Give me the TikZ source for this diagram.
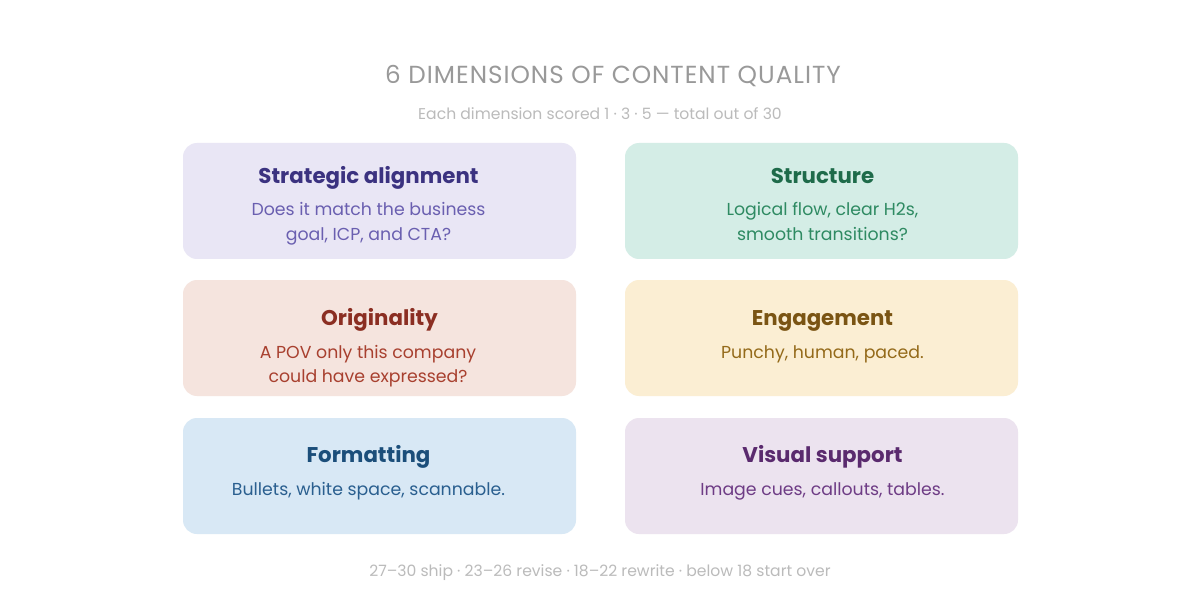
\documentclass[tikz,border=0pt]{standalone}
\usepackage{fontspec}
\setmainfont{Poppins}
\usepackage{xcolor}
\usepackage{tikz}
\usetikzlibrary{positioning}

\definecolor{ttlgray}{HTML}{999999}
\definecolor{subgray}{HTML}{BBBBBB}
\definecolor{safill}{HTML}{E9E6F5}\definecolor{sahead}{HTML}{3B3280}\definecolor{satext}{HTML}{6A5FB0}
\definecolor{stfill}{HTML}{D4EDE6}\definecolor{sthead}{HTML}{1E6B4A}\definecolor{sttext}{HTML}{2E8A62}
\definecolor{ogfill}{HTML}{F5E4DE}\definecolor{oghead}{HTML}{8B2E22}\definecolor{ogtext}{HTML}{A8402F}
\definecolor{enfill}{HTML}{FBEED3}\definecolor{enhead}{HTML}{7A5413}\definecolor{entext}{HTML}{946A1A}
\definecolor{fmfill}{HTML}{D8E8F5}\definecolor{fmhead}{HTML}{1B4E7A}\definecolor{fmtext}{HTML}{2A5F8F}
\definecolor{vsfill}{HTML}{ECE3EF}\definecolor{vshead}{HTML}{5A2A6E}\definecolor{vstext}{HTML}{6E3C85}

\begin{document}
\begin{tikzpicture}[
            x=0.75pt, y=-0.75pt,
            every node/.style={inner sep=0pt},
            card/.style={rounded corners=10.5pt, minimum width=294.75pt, minimum height=87pt},
            hd/.style={anchor=base, font=\fontsize{16}{18}\selectfont\bfseries},
            bd/.style={anchor=base, align=center, font=\fontsize{13}{18}\selectfont},
            note/.style={anchor=base, text=subgray, font=\fontsize{11.7}{14}\selectfont},
        ]
            \useasboundingbox[fill=white] (0,0) rectangle (1200,613);
            \node[anchor=base, text=ttlgray, font=\fontsize{18.5}{22}\selectfont\addfontfeatures{LetterSpace=4}] (title) at (613,84) {6 DIMENSIONS OF CONTENT QUALITY};
            \node[note] (sub) at (600,120) {Each dimension scored 1 · 3 · 5 — total out of 30};
            % cards
            \node[card, fill=safill] (sa) at (379.5,201) {};
            \node[card, fill=stfill] (st) at (821.5,201) {};
            \node[card, fill=ogfill] (og) at (379.5,338) {};
            \node[card, fill=enfill] (en) at (821.5,338) {};
            \node[card, fill=fmfill] (fm) at (379.5,476) {};
            \node[card, fill=vsfill] (vs) at (821.5,476) {};
            % headings and texts (base = last line)
            \node[hd, text=sahead] (sah) at (368.5,184) {Strategic alignment};
            \node[bd, text=satext] (sab) at (368.5,240) {Does it match the business\\goal, ICP, and CTA?};
            \node[hd, text=sthead] (sth) at (822.5,184) {Structure};
            \node[bd, text=sttext] (stb) at (822.5,240) {Logical flow, clear H2s,\\smooth transitions?};
            \node[hd, text=oghead] (ogh) at (379.5,325) {Originality};
            \node[bd, text=ogtext] (ogb) at (368,382) {A POV only this company\\could have expressed?};
            \node[hd, text=enhead] (enh) at (822.5,325) {Engagement};
            \node[bd, text=entext] (enb) at (822.5,358) {Punchy, human, paced.};
            \node[hd, text=fmhead] (fmh) at (368.5,462) {Formatting};
            \node[bd, text=fmtext] (fmb) at (368.5,495) {Bullets, white space, scannable.};
            \node[hd, text=vshead] (vsh) at (822.5,462) {Visual support};
            \node[bd, text=vstext] (vsb) at (822.5,495) {Image cues, callouts, tables.};
            \node[note] (foot) at (600,576) {27–30 ship · 23–26 revise · 18–22 rewrite · below 18 start over};
        \end{tikzpicture}
\end{document}
